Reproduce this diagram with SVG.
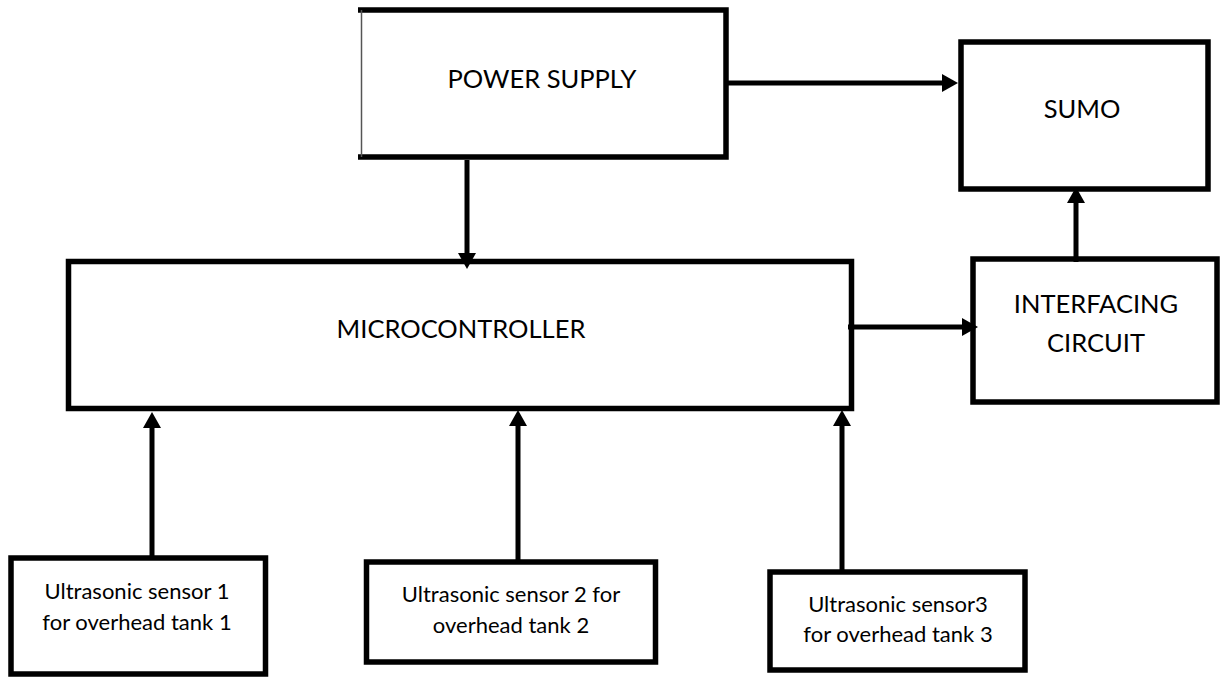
<svg xmlns="http://www.w3.org/2000/svg" width="1222" height="677" viewBox="0 0 1222 677">
<style>
.box{fill:#fff;stroke:#000;stroke-width:5.5}
.lbl{font-family:Lato,"Open Sans",sans-serif;fill:#000;text-anchor:middle}
.big{font-size:25.5px}
.sm{font-size:22px}
.con{stroke:#000;stroke-width:5;fill:none}
</style>
<defs>
<marker id="ah" markerUnits="userSpaceOnUse" markerWidth="18" markerHeight="20" refX="0" refY="9" orient="auto">
<path d="M0,0 L16,9 L0,18 z" fill="#000"/>
</marker>
</defs>
<rect width="1222" height="677" fill="#fff"/>
<g id="power-supply">
<rect x="361" y="10" width="365" height="147" fill="#fff"/>
<path d="M358,10 H726 V157 H358" fill="none" stroke="#000" stroke-width="5.5"/>
<line x1="361.5" y1="10" x2="361.5" y2="157" stroke="#555" stroke-width="1.5"/>
<text class="lbl big" x="542" y="88">POWER SUPPLY</text>
</g>
<g id="sumo">
<rect class="box" x="961" y="42" width="247" height="147"/>
<text class="lbl big" x="1082" y="118">SUMO</text>
</g>
<g id="microcontroller">
<rect class="box" x="68.5" y="261.5" width="783" height="147"/>
<text class="lbl big" x="461" y="338">MICROCONTROLLER</text>
</g>
<g id="interfacing-circuit">
<rect class="box" x="973" y="259" width="244" height="143"/>
<text class="lbl big" x="1096" y="313">INTERFACING</text>
<text class="lbl big" x="1096" y="352">CIRCUIT</text>
</g>
<g id="sensor-1">
<rect class="box" x="11" y="558" width="254.5" height="116"/>
<text class="lbl sm" x="137" y="599">Ultrasonic sensor 1</text>
<text class="lbl sm" x="137" y="630">for overhead tank 1</text>
</g>
<g id="sensor-2">
<rect class="box" x="366.5" y="562" width="289" height="100"/>
<text class="lbl sm" x="511" y="602">Ultrasonic sensor 2 for</text>
<text class="lbl sm" x="511" y="633">overhead tank 2</text>
</g>
<g id="sensor-3">
<rect class="box" x="770" y="572" width="255" height="98"/>
<text class="lbl sm" x="898" y="612">Ultrasonic sensor3</text>
<text class="lbl sm" x="898" y="642">for overhead tank 3</text>
</g>
<g id="connectors">
<line class="con" x1="467" y1="160" x2="467" y2="253" marker-end="url(#ah)"/>
<line class="con" x1="728" y1="83" x2="942" y2="83" marker-end="url(#ah)"/>
<line class="con" x1="1076" y1="262" x2="1076" y2="203" marker-end="url(#ah)"/>
<line class="con" x1="848" y1="327" x2="962" y2="327" marker-end="url(#ah)"/>
<line class="con" x1="152" y1="558" x2="152" y2="428" marker-end="url(#ah)"/>
<line class="con" x1="518" y1="562" x2="518" y2="426" marker-end="url(#ah)"/>
<line class="con" x1="842" y1="572" x2="842" y2="426" marker-end="url(#ah)"/>
</g>
</svg>
